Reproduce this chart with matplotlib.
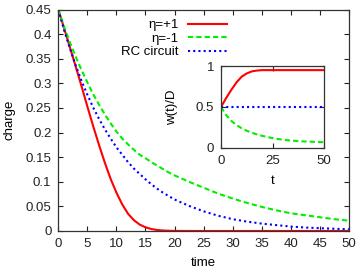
import numpy as np
import matplotlib
matplotlib.use('Agg')
import matplotlib.pyplot as plt

plt.rcParams['font.family'] = ['Liberation Sans', 'DejaVu Sans']
plt.rcParams['font.size'] = 9.5

# main plot: charge vs time
time = [0, 1, 2, 3, 4, 5, 6, 7, 8, 9, 10, 11, 12, 13, 14, 15, 16, 17, 18, 19, 20,
        22.5, 25, 27.5, 30, 32.5, 35, 37.5, 40, 42.5, 45, 47.5, 50]
charge_plus = [0.450, 0.412, 0.373, 0.334, 0.294, 0.253, 0.213, 0.175, 0.139, 0.106,
               0.078, 0.054, 0.035, 0.022, 0.013, 0.0075, 0.004, 0.002, 0.001, 0.0005,
               0.0002, 0.0, 0.0, 0.0, 0.0, 0.0, 0.0, 0.0, 0.0, 0.0, 0.0, 0.0, 0.0]
charge_minus = [0.450, 0.415, 0.383, 0.354, 0.327, 0.302, 0.278, 0.257, 0.237, 0.219,
                0.202, 0.188, 0.176, 0.165, 0.155, 0.148, 0.140, 0.133, 0.126, 0.119,
                0.113, 0.100, 0.088, 0.076, 0.066, 0.057, 0.049, 0.042, 0.036, 0.032,
                0.028, 0.024, 0.021]
charge_rc = [0.450, 0.408, 0.371, 0.336, 0.305, 0.277, 0.251, 0.228, 0.207, 0.188,
             0.170, 0.155, 0.140, 0.127, 0.116, 0.105, 0.095, 0.086, 0.078, 0.071,
             0.064, 0.051, 0.040, 0.031, 0.024, 0.019, 0.015, 0.012, 0.009, 0.007,
             0.0057, 0.0045, 0.0035]

# inset: w(t)/D vs t
t_in = [0, 2.5, 5, 7.5, 10, 12.5, 15, 17.5, 20, 25, 30, 35, 40, 45, 50]
w_plus = [0.50, 0.61, 0.71, 0.80, 0.87, 0.91, 0.935, 0.945, 0.95, 0.95, 0.95, 0.95, 0.95, 0.95, 0.95]
w_minus = [0.50, 0.40, 0.33, 0.28, 0.24, 0.21, 0.185, 0.165, 0.148, 0.12, 0.10, 0.088, 0.08, 0.075, 0.07]
w_rc = [0.5] * len(t_in)

RED, GREEN, BLUE = '#ff0000', '#00ee00', '#0000ff'
styles = [
    dict(color=RED, lw=1.5, ls='-'),
    dict(color=GREEN, lw=1.5, ls=(0, (2.5, 1.5))),
    dict(color=BLUE, lw=1.5, ls=(0, (1, 1.5))),
]


def style_axes(ax):
    ax.tick_params(direction='in', top=True, right=True, length=3.5, width=0.8,
                   colors='#222222', pad=5)
    for s in ax.spines.values():
        s.set_linewidth(0.9)
        s.set_color('#333333')


fig = plt.figure(figsize=(3.6, 2.74), dpi=100)
ax = fig.add_axes([0.162, 0.157, 0.807, 0.808])
ax.plot(time, charge_plus, label='η=+1', **styles[0])
ax.plot(time, charge_minus, label='η=-1', **styles[1])
ax.plot(time, charge_rc, label='RC circuit', **styles[2])
ax.set_xlim(0, 50)
ax.set_ylim(0, 0.45)
ax.set_xticks(np.arange(0, 51, 5))
ax.set_yticks(np.arange(0, 0.451, 0.05))
ax.set_yticklabels(['0', '0.05', '0.1', '0.15', '0.2', '0.25', '0.3', '0.35', '0.4', '0.45'])
ax.set_xlabel('time', labelpad=5)
ax.set_ylabel('charge', labelpad=7)
style_axes(ax)
ax.legend(loc='upper right', frameon=False, markerfirst=False, handlelength=2.95,
          handletextpad=0.75, labelspacing=0.1, borderaxespad=0, borderpad=0,
          bbox_to_anchor=(0.582, 0.958))

ins = fig.add_axes([0.614, 0.46, 0.286, 0.299])
ins.plot(t_in, w_plus, **styles[0])
ins.plot(t_in, w_minus, **styles[1])
ins.plot(t_in, w_rc, **styles[2])
ins.set_xlim(0, 50)
ins.set_ylim(0, 1)
ins.set_xticks([0, 25, 50])
ins.set_yticks([0, 0.5, 1])
ins.set_yticklabels(['0', '0.5', '1'])
ins.set_xlabel('t', labelpad=6)
ins.set_ylabel('w(t)/D', labelpad=13)
style_axes(ins)

fig.savefig('out.png', dpi=100)
